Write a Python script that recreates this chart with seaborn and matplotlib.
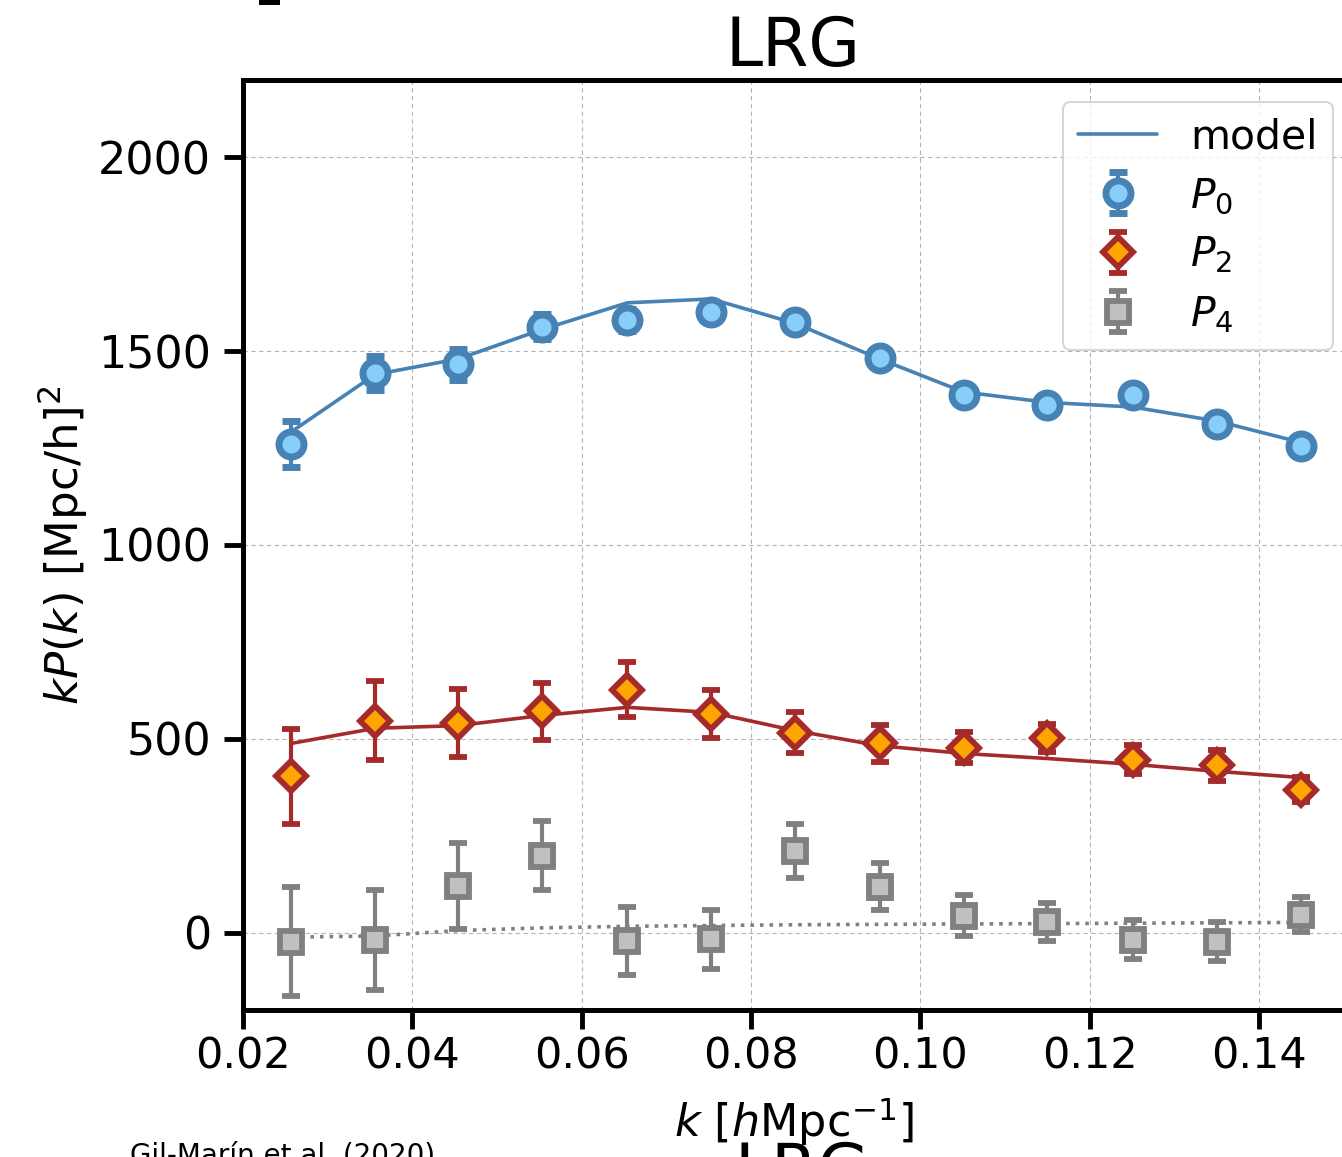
import numpy as np
import pandas as pd
import matplotlib
matplotlib.use("Agg")
import matplotlib.pyplot as plt
import seaborn as sns
from matplotlib.patches import Rectangle

# ---------------- data ----------------
k = [0.0257, 0.0356, 0.0454, 0.0553, 0.0654, 0.0753, 0.0852,
     0.0952, 0.1051, 0.1150, 0.1251, 0.1350, 0.1449]

p0 = [1260, 1444, 1467, 1563, 1580, 1602, 1576, 1483, 1388, 1360, 1388, 1312, 1255]
e0 = [60, 45, 40, 32, 28, 25, 24, 22, 20, 20, 18, 18, 17]
m0 = [1292, 1440, 1480, 1556, 1625, 1635, 1572, 1480, 1395, 1368, 1356, 1320, 1265]

p2 = [403, 547, 540, 571, 627, 565, 516, 488, 477, 501, 446, 431, 369]
e2 = [123, 101, 88, 74, 70, 62, 53, 47, 40, 36, 37, 39, 32]
m2 = [488, 527, 534, 560, 581, 568, 521, 482, 462, 449, 434, 416, 400]

p4 = [-24, -19, 120, 198, -22, -17, 211, 118, 43, 27, -19, -24, 46]
e4 = [141, 129, 110, 89, 87, 76, 70, 61, 53, 50, 50, 50, 45]
m4 = [-12, -9, 5, 12, 16, 18, 20, 21, 22, 23, 24, 25, 26]

xticks = [0.02, 0.04, 0.06, 0.08, 0.10, 0.12, 0.14]
yticks = [0, 500, 1000, 1500, 2000]

# ---------------- style ----------------
sns.set_theme(style="ticks")
plt.rcParams["font.family"] = ["DejaVu Sans"]
plt.rcParams["mathtext.fontset"] = "dejavusans"
for key in ["text.color", "axes.labelcolor", "xtick.color", "ytick.color",
            "axes.edgecolor"]:
    plt.rcParams[key] = "black"

fig = plt.figure(figsize=(13.42, 11.57), dpi=100)
ax = fig.add_axes([0.18107, 0.12705, 0.8202, 0.80381])

df = pd.DataFrame({"k": k, "m0": m0, "m2": m2, "m4": m4})

sns.lineplot(data=df, x="k", y="m0", color="steelblue", lw=2.6, ax=ax,
             label="model", zorder=2, legend=False)
sns.lineplot(data=df, x="k", y="m2", color="#a52a2a", lw=2.6, ax=ax,
             zorder=2, legend=False)
sns.lineplot(data=df, x="k", y="m4", color="grey", lw=2.6, ax=ax,
             linestyle=":", zorder=2, legend=False)

h0 = ax.errorbar(k, p0, yerr=e0, fmt="o", ms=18, mfc="lightskyblue",
                 mec="steelblue", mew=5, ecolor="steelblue",
                 elinewidth=3, capsize=6.5, capthick=3.5, zorder=3)
h2 = ax.errorbar(k, p2, yerr=e2, fmt="D", ms=15.5, mfc="orange",
                 mec="#a52a2a", mew=4.2, ecolor="#a52a2a",
                 elinewidth=3, capsize=6.5, capthick=3.5, zorder=3)
h4 = ax.errorbar(k, p4, yerr=e4, fmt="s", ms=16.5, mfc="silver",
                 mec="grey", mew=4.2, ecolor="grey",
                 elinewidth=3, capsize=6.5, capthick=3.5, zorder=3)

ax.set_xlim(0.02, 0.15)
ax.set_ylim(-200, 2200)
ax.set_xticks(xticks)
ax.set_xticklabels([f"{t:.2f}" for t in xticks])
ax.set_yticks(yticks)
ax.grid(True, color="#b5b5b5", lw=0.8, linestyle=(0, (4, 3)))
ax.set_axisbelow(True)

for s in ["left", "bottom", "top"]:
    ax.spines[s].set_linewidth(3.6)
    ax.spines[s].set_color("black")
ax.spines["right"].set_visible(False)

ax.tick_params(axis="both", which="major", length=14, width=3.5,
               color="black", labelcolor="black", direction="out")
ax.tick_params(axis="x", labelsize=31, pad=4)
ax.tick_params(axis="y", labelsize=32, pad=9)
ax.tick_params(top=False, right=False)

ax.set_xlabel(r"$k$ [$h$Mpc$^{-1}$]", fontsize=32, labelpad=13)
ax.set_ylabel(r"$kP(k)$ [Mpc/h]$^2$", fontsize=32.5, labelpad=6)
ax.set_title("LRG", fontsize=48, pad=10)

line_handle = ax.get_lines()[0]
leg = ax.legend([line_handle, h0, h2, h4],
                ["model", r"$P_0$", r"$P_2$", r"$P_4$"],
                loc="upper right", bbox_to_anchor=(0.990, 0.976),
                borderaxespad=0, fontsize=29.4, frameon=True, fancybox=True,
                edgecolor="0.8", framealpha=0.8, handlelength=1.95,
                handletextpad=0.8, labelspacing=0.46, borderpad=0.37)
leg.get_frame().set_linewidth(1.5)

# fragments of neighbouring panels visible at the crop edges
fig.text(130 / 1342, -0.006, "Gil-Marín et al. (2020)", fontsize=20,
         ha="left", va="baseline")
fig.text(802 / 1342, -0.030, "LRG", fontsize=48, ha="center", va="baseline")
fig.add_artist(Rectangle((259 / 1342, 1 - 5 / 1157), 21 / 1342, 5 / 1157,
                         transform=fig.transFigure, color="black", lw=0))

fig.savefig("out.png", dpi=100)
